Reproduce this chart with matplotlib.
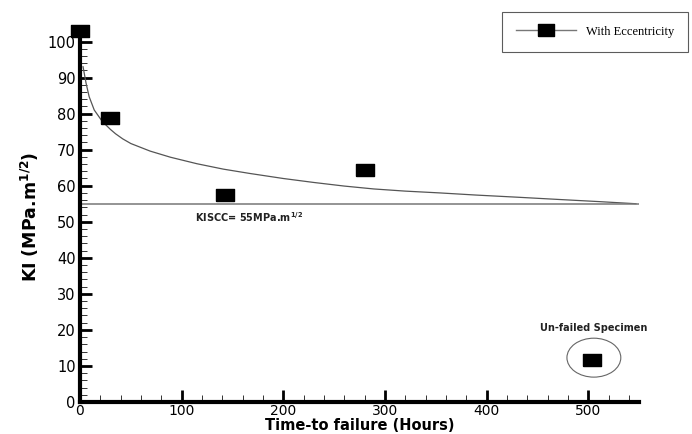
import matplotlib
matplotlib.use("Agg")
import matplotlib.pyplot as plt
from matplotlib.patches import Ellipse
from matplotlib.ticker import MultipleLocator

# Data
time_hours = [0, 30, 143, 280]
ki_values = [103.0, 78.8, 57.4, 64.3]
unfailed_time = [504]
unfailed_ki = [11.6]

# Fitted curve
curve_x = [3, 6, 9, 14, 22, 30, 35, 42, 50, 69, 89, 115, 141, 167, 200, 230, 260,
           289, 320, 354, 390, 431, 470, 510, 547]
curve_y = [93.0, 88.4, 84.7, 81.0, 77.8, 75.6, 74.4, 73.0, 71.7, 69.6, 67.9, 66.1,
           64.6, 63.4, 62.0, 60.9, 59.9, 59.1, 58.5, 58.0, 57.4, 56.8, 56.2, 55.6, 55.0]

kiscc = 55
kiscc_x = [0, 550]

plt.rcParams['font.family'] = ['DejaVu Sans']

fig = plt.figure(figsize=(6.92, 4.34), dpi=100)
ax = fig.add_axes([80/692, 1-402/434, (639-80)/692, (402-32.5)/434])

rect = [(-1, -0.7), (1, -0.7), (1, 0.7), (-1, 0.7), (-1, -0.7)]

ax.plot(curve_x, curve_y, color='#555555', lw=0.9, zorder=2)
ax.plot(kiscc_x, [kiscc, kiscc], color='#777777', lw=1.1, zorder=2)
ax.plot(time_hours, ki_values, ls='none', marker=rect, ms=12.5, color='black',
        clip_on=False, zorder=4)
ax.plot(unfailed_time, unfailed_ki, ls='none', marker=rect, ms=12.5, color='black',
        clip_on=False, zorder=4)

# legend proxy
ax.plot([], [], color='#777777', lw=1.0, marker=rect, ms=11.5, mfc='black', mec='black',
        label='With Eccentricity')

ax.add_patch(Ellipse((505.6, 12.3), 53, 10.8, fill=False, ec='#666666', lw=0.8))
ax.text(505, 20.5, 'Un-failed Specimen', ha='center', va='center', fontsize=7,
        fontweight='bold', color='#222222')
ax.text(113, 51.2, r'KISCC= 55MPa.m$^{\mathbf{1/2}}$', ha='left', va='center', fontsize=7,
        fontweight='bold', color='#222222')

ax.set_xlim(0, 550)
ax.set_ylim(0, 102.5)
ax.xaxis.set_major_locator(MultipleLocator(100))
ax.xaxis.set_minor_locator(MultipleLocator(20))
ax.yaxis.set_major_locator(MultipleLocator(10))
ax.yaxis.set_minor_locator(MultipleLocator(2))

for s in ['top', 'right']:
    ax.spines[s].set_visible(False)
for s in ['left', 'bottom']:
    ax.spines[s].set_linewidth(3)
    ax.spines[s].set_color('black')

ax.tick_params(which='major', direction='in', length=8.5, width=2, labelsize=10.5,
               colors='black', pad=3)
ax.tick_params(axis='x', which='major', pad=1.5, labelsize=10)
ax.tick_params(which='minor', direction='in', length=5, width=0.7, colors='#333333')

ax.set_xlabel('Time-to failure (Hours)', fontsize=10.5, fontweight='bold', labelpad=0)
ax.set_ylabel(r'KI (MPa.m$^{\mathbf{1/2}}$)', fontsize=12.5, fontweight='bold', labelpad=5)

leg = ax.legend(loc='upper right', bbox_to_anchor=(688/692, 1-12/434),
                bbox_transform=fig.transFigure, frameon=True, fancybox=False,
                edgecolor='#333333', handlelength=4.8, handletextpad=0.8,
                borderpad=1.1, borderaxespad=0,
                prop={'family': 'Liberation Serif', 'size': 9})
leg.get_frame().set_linewidth(0.8)

fig.savefig('out.png', dpi=100)
